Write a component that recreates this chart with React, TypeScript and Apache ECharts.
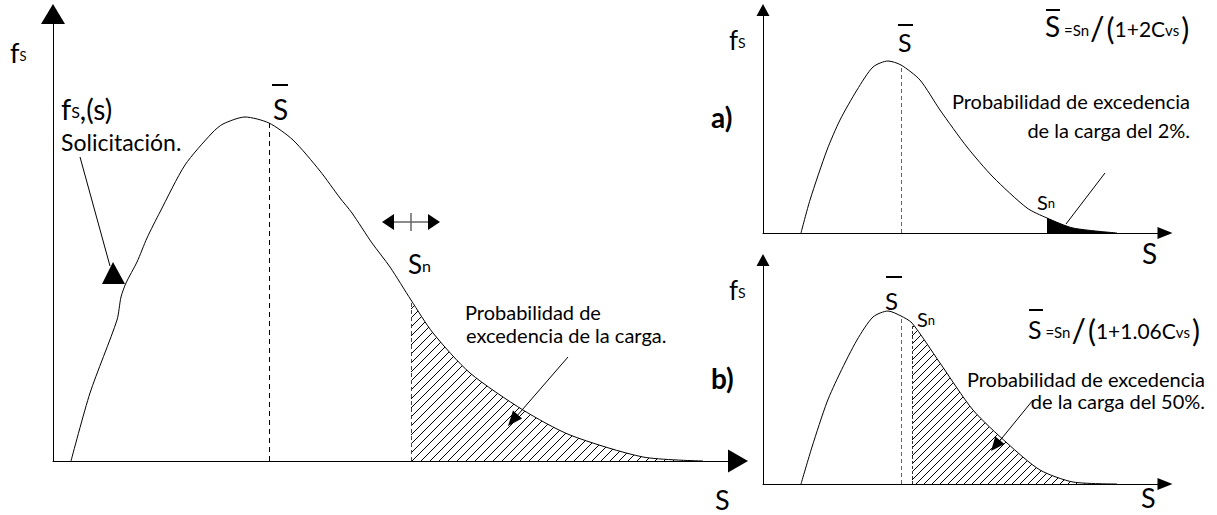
import React, { useEffect, useRef } from "react";
import * as echarts from "echarts";

const FONT = 'Lato, "Open Sans", sans-serif';

// ---------- data (s, f_S(s)) ----------
// main panel
const mainRange = [685, 447];
const mainCurve = [
  [18, 0], [37, 68], [64, 141], [68, 164], [73, 178], [84, 199], [94, 223], [107, 249],
  [132, 296], [159, 328], [170, 337], [192, 344], [216, 338], [240, 321], [267, 290],
  [287, 263], [299, 248], [319, 218], [337, 194], [358, 161], [380, 128], [417, 88],
  [470, 51], [517, 26], [590, 4], [650, 0],
];
const mainSbar = 216;
const mainSn = 358;

// panel a)
const aRange = [402, 223];
const aCurve = [
  [38, 0], [47, 33], [64, 83], [77, 113], [94, 143], [110, 166], [125, 172], [138, 168],
  [157, 153], [177, 123], [204, 86], [230, 56], [264, 25], [284, 15], [310, 5], [354, 0],
];
const aSbar = 138;
const aSn = 284;

// panel b)
const bRange = [402, 224];
const bCurve = [
  [38, 0], [49, 37], [64, 82], [77, 111], [94, 144], [110, 167], [125, 173], [138, 168],
  [149, 161], [177, 121], [210, 74], [244, 41], [277, 14], [310, 2], [354, 0],
];
const bSbar = 138;
const bSn = 149;

// ---------- texts ----------
const txtProbMain = ["Probabilidad de", "excedencia de la carga."];
const txtProbA = ["Probabilidad de excedencia", "de la carga del 2%."];
const txtProbB = ["Probabilidad de excedencia", "de la carga del 50%."];
const txtSolic = "Solicitación.";
const formulaA = ["S", " =Sn", "/", "(", "1+2C", "vs", ")"];
const formulaB = ["S", " =Sn", "/", "(", "1+1.06C", "vs", ")"];

const K = 0.32; // central-baseline offset factor

type Part = { t: string; s: number; d?: number; w?: string; gap?: number };

let measureCtx: CanvasRenderingContext2D | null = null;
function tw(t: string, s: number, w = "normal") {
  if (!measureCtx) measureCtx = document.createElement("canvas").getContext("2d");
  measureCtx!.font = `${w} ${s}px ${FONT}`;
  return measureCtx!.measureText(t).width;
}

// a row of text pieces of different sizes sharing a baseline
function textRow(x: number, baseline: number, parts: Part[], align = "left") {
  const widths = parts.map((p) => tw(p.t, p.s, p.w) + (p.gap || 0));
  const total = widths.reduce((a, b) => a + b, 0);
  let cx = align === "right" ? x - total : x;
  const out: any[] = [];
  parts.forEach((p, i) => {
    out.push({
      type: "text",
      z: 20,
      style: {
        x: cx,
        y: baseline + (p.d || 0) - K * p.s,
        text: p.t,
        fontSize: p.s,
        fontFamily: FONT,
        fontWeight: p.w || "normal",
        fill: "#000",
        align: "left",
        textAlign: "left",
        verticalAlign: "middle",
        textVerticalAlign: "middle",
      },
    });
    cx += widths[i];
  });
  return out;
}

function line(x1: number, y1: number, x2: number, y2: number, w = 1, color = "#000") {
  return { type: "line", z: 20, shape: { x1, y1, x2, y2 }, style: { stroke: color, lineWidth: w } };
}
function tri(points: number[][]) {
  return { type: "polygon", z: 20, shape: { points }, style: { fill: "#000" } };
}

function hatch(step: number) {
  const c = document.createElement("canvas");
  c.width = step;
  c.height = step;
  const g = c.getContext("2d")!;
  g.strokeStyle = "#000";
  g.lineWidth = 1;
  g.beginPath();
  g.moveTo(-1, step + 1);
  g.lineTo(step + 1, -1);
  g.moveTo(-2, 2);
  g.lineTo(2, -2);
  g.moveTo(step - 2, step + 2);
  g.lineTo(step + 2, step - 2);
  g.stroke();
  return c;
}

function axes(idx: number, range: number[], ySym: number[], xSym: number[]) {
  const common = {
    type: "value",
    gridIndex: idx,
    min: 0,
    axisTick: { show: false },
    axisLabel: { show: false },
    splitLine: { show: false },
  };
  return {
    x: {
      ...common,
      max: range[0],
      axisLine: { show: true, onZero: false, symbol: ["none", "triangle"], symbolSize: xSym, lineStyle: { color: "#000", width: 1 } },
    },
    y: {
      ...common,
      max: range[1],
      axisLine: { show: true, onZero: false, symbol: ["none", "triangle"], symbolSize: ySym, lineStyle: { color: "#000", width: 1 } },
    },
  };
}

function panelSeries(
  idx: number,
  curve: number[][],
  sbar: number,
  sn: number,
  fill: any,
  sbarStyle: any,
  snStyle: any
) {
  const yAt = (x: number) => (curve.find((p) => p[0] === x) || [x, 0])[1];
  const marks: any[] = [[{ coord: [sbar, 0], lineStyle: sbarStyle }, { coord: [sbar, yAt(sbar)] }]];
  if (snStyle) marks.push([{ coord: [sn, 0], lineStyle: snStyle }, { coord: [sn, yAt(sn)] }]);
  return [
    {
      type: "line",
      xAxisIndex: idx,
      yAxisIndex: idx,
      data: curve.filter((p) => p[0] >= sn),
      symbol: "none",
      smooth: 0.25,
      lineStyle: { width: 0 },
      areaStyle: { color: fill, opacity: 1 },
      z: 2,
      silent: true,
    },
    {
      type: "line",
      xAxisIndex: idx,
      yAxisIndex: idx,
      data: curve,
      symbol: "none",
      smooth: 0.25,
      lineStyle: { color: "#000", width: 1 },
      z: 3,
      silent: true,
      markLine: { silent: true, symbol: "none", label: { show: false }, data: marks, animation: false },
    },
  ];
}

function formula(x: number, baseline: number, f: string[], sBig: number, mid: number) {
  return textRow(x, baseline, [
    { t: f[0], s: sBig },
    { t: f[1], s: 15, gap: 1 },
    { t: f[2], s: 32, d: 3, gap: 2 },
    { t: f[3], s: 30, d: 3 },
    { t: f[4], s: mid },
    { t: f[5], s: 15, gap: 2 },
    { t: f[6], s: 30, d: 3 },
  ]);
}

export default function App() {
  const ref = useRef<HTMLDivElement>(null);
  useEffect(() => {
    if (!ref.current) return;
    const chart = echarts.init(ref.current, null, { renderer: "svg" });
    const am = axes(0, mainRange, [24, 20], [23, 20]);
    const aa = axes(1, aRange, [13, 12], [12, 15]);
    const ab = axes(2, bRange, [13, 12], [12, 15]);

    const graphic: any[] = [
      // ---- main panel ----
      ...textRow(10, 61, [{ t: "f", s: 27 }, { t: "S", s: 13, d: -1 }]),
      ...textRow(273, 118, [{ t: "S", s: 28 }]),
      line(272, 85, 288, 85, 2),
      ...textRow(61, 118, [{ t: "f", s: 29 }, { t: "S", s: 16, d: -1 }, { t: ",(s)", s: 28 }]),
      ...textRow(61, 149, [{ t: txtSolic, s: 23 }]),
      line(80, 157, 110, 266),
      tri([[113, 262], [102, 284], [125, 284]]),
      ...textRow(408, 272, [{ t: "S", s: 26 }, { t: "n", s: 16, d: -1 }]),
      line(386, 222, 436, 222, 1.5, "#666"),
      line(411, 213, 411, 231, 1.5, "#666"),
      tri([[382, 222], [394, 214], [394, 230]]),
      tri([[440, 222], [428, 214], [428, 230]]),
      ...textRow(465, 318, [{ t: txtProbMain[0], s: 20 }]),
      ...textRow(466, 341, [{ t: txtProbMain[1], s: 20 }]),
      line(568, 357, 516, 417),
      tri([[508, 426], [522, 418.5], [513, 410.5]]),
      ...textRow(715, 508, [{ t: "S", s: 27 }]),

      // ---- panel a ----
      ...textRow(729, 48, [{ t: "f", s: 26 }, { t: "S", s: 14, d: -1 }]),
      ...textRow(711, 126, [{ t: "a)", s: 28, w: "bold" }]),
      ...textRow(898, 50, [{ t: "S", s: 25 }]),
      line(898, 25, 913, 25, 2),
      ...textRow(1037, 208, [{ t: "S", s: 20 }, { t: "n", s: 13, d: -1 }]),
      ...formula(1045, 35, formulaA, 28, 21),
      line(1046, 10, 1060, 10, 2),
      ...textRow(1190, 107, [{ t: txtProbA[0], s: 20 }], "right"),
      ...textRow(1190, 136, [{ t: txtProbA[1], s: 20 }], "right"),
      line(1105, 173, 1066, 224),
      ...textRow(1142, 262, [{ t: "S", s: 28 }]),

      // ---- panel b ----
      ...textRow(729, 298, [{ t: "f", s: 26 }, { t: "S", s: 14, d: -1 }]),
      ...textRow(711, 387, [{ t: "b)", s: 28, w: "bold" }]),
      ...textRow(885, 308, [{ t: "S", s: 24 }]),
      line(886, 277, 902, 277, 2),
      ...textRow(917, 325, [{ t: "S", s: 20 }, { t: "n", s: 13, d: -1 }]),
      ...formula(1028, 337, formulaB, 25, 21),
      line(1029, 310, 1043, 310, 2),
      ...textRow(1205, 385, [{ t: txtProbB[0], s: 20 }], "right"),
      ...textRow(1205, 407, [{ t: txtProbB[1], s: 20 }], "right"),
      line(1033, 400, 998, 443),
      tri([[991, 451], [1004.5, 444], [995.3, 436.4]]),
      ...textRow(1141, 506, [{ t: "S", s: 27 }]),
    ];

    chart.setOption({
      animation: false,
      backgroundColor: "#fff",
      grid: [
        { left: 53, top: 14, width: mainRange[0], height: mainRange[1] },
        { left: 763, top: 10, width: aRange[0], height: aRange[1] },
        { left: 763, top: 260, width: bRange[0], height: bRange[1] },
      ],
      xAxis: [am.x, aa.x, ab.x],
      yAxis: [am.y, aa.y, ab.y],
      series: [
        ...panelSeries(0, mainCurve, mainSbar, mainSn, { image: hatch(9), repeat: "repeat" },
          { type: [5, 4], color: "#000", width: 1 }, { type: [4, 3], color: "#444", width: 1 }),
        ...panelSeries(1, aCurve, aSbar, aSn, "#000", { type: [4, 3], color: "#666", width: 1 }, null),
        ...panelSeries(2, bCurve, bSbar, bSn, { image: hatch(8), repeat: "repeat" },
          { type: [4, 3], color: "#666", width: 1 }, { type: [3, 2], color: "#333", width: 1 }),
      ],
      graphic,
    });
    return () => chart.dispose();
  }, []);
  return (
    <div
      ref={ref}
      style={{ position: "fixed", left: 0, top: 0, width: 1217, height: 515, background: "#fff" }}
    />
  );
}
